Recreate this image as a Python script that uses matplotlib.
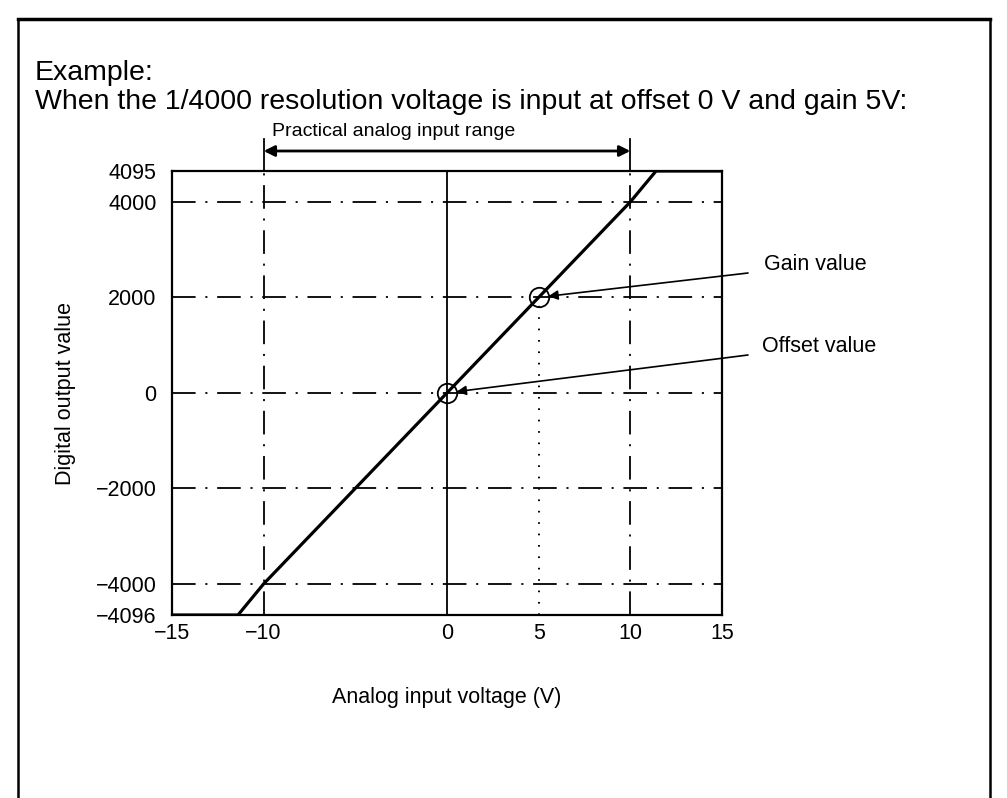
"""Digital output vs analog input voltage, offset 0 V / gain 5 V, 1/4000 resolution."""

import matplotlib

matplotlib.use("Agg")
import matplotlib.pyplot as plt
import numpy as np
from matplotlib.lines import Line2D

plt.rcParams["font.family"] = ["Liberation Sans", "DejaVu Sans"]
plt.rcParams["lines.scale_dashes"] = False

# conversion characteristic
volts = [-15, -11.4, -10, 0, 10, 11.4, 15]
digital = [-4096, -4096, -4000, 0, 4000, 4095, 4095]

offset_pt = (0, 0)
gain_pt = (5, 2000)

x_ticks = [-15, -10, 0, 5, 10, 15]
y_ticks = [-4096, -4000, -2000, 0, 2000, 4000, 4095]
h_grid = [-4000, -2000, 0, 2000, 4000]
v_range = [-10, 10]          # practical analog input range limits

Y_LIM = (-4096, 4095)
STRETCH = 6.8                # the drawing exaggerates the band beyond +/-4000


def fwd(y):
    y = np.asarray(y, dtype=float)
    a = np.abs(y)
    return np.where(a <= 4000, y, np.sign(y) * (4000 + (a - 4000) * STRETCH))


def inv(y):
    y = np.asarray(y, dtype=float)
    a = np.abs(y)
    return np.where(a <= 4000, y, np.sign(y) * (4000 + (a - 4000) / STRETCH))


def fx(px):
    return px / 1007


def fy(py):
    return 1 - py / 798


DASHDOT = (0, (17, 7, 1.5, 7))
FS = 15.5

fig = plt.figure(figsize=(10.07, 7.98), dpi=100)
ax = fig.add_axes([0.1708, 0.2293, 0.5462, 0.5564])
ax.set_yscale("function", functions=(fwd, inv))
ax.set_xlim(x_ticks[0], x_ticks[-1])
ax.set_ylim(*Y_LIM)

for y in h_grid:
    ax.axhline(y, color="black", lw=1.3, ls=DASHDOT)
for x in v_range:
    ax.axvline(x, color="black", lw=1.3, ls=DASHDOT)
ax.axvline(0, color="black", lw=1.3)
ax.plot([gain_pt[0], gain_pt[0]], [Y_LIM[0], gain_pt[1]], color="black",
        lw=1.4, ls=(0, (1.2, 7)))

ax.plot(volts, digital, color="black", lw=2.3, solid_capstyle="butt")
for pt in (offset_pt, gain_pt):
    ax.plot(*pt, "o", ms=14, mfc="none", mec="black", mew=1.3)

ax.set_xticks(x_ticks)
ax.set_yticks(y_ticks)
ax.set_xticklabels(["\u221215", "\u221210", "0", "5", "10", "15"])
ax.set_yticklabels(["\u22124096", "\u22124000", "\u22122000", "0", "2000", "4000", "4095"])
ax.tick_params(axis="x", length=0, labelsize=FS, pad=6)
ax.tick_params(axis="y", length=0, labelsize=FS, pad=11)
for sp in ax.spines.values():
    sp.set_linewidth(1.6)

ax.set_xlabel("Analog input voltage (V)", fontsize=FS, labelpad=31)
ax.set_ylabel("Digital output value", fontsize=FS, labelpad=14)

# practical range bracket above the plot
bx0 = ax.transData.transform((v_range[0], 0))[0] / fig.bbox.width
bx1 = ax.transData.transform((v_range[1], 0))[0] / fig.bbox.width
for bx in (bx0, bx1):
    fig.add_artist(Line2D([bx, bx], [fy(139), fy(171)], color="black", lw=1.3))
ax.annotate("", xy=(bx0, fy(151)), xytext=(bx1, fy(151)),
            xycoords="figure fraction", textcoords="figure fraction",
            arrowprops=dict(arrowstyle="<|-|>", color="black", lw=2,
                            mutation_scale=16, shrinkA=0, shrinkB=0))
fig.text(fx(272), fy(131), "Practical analog input range", fontsize=14,
         ha="left", va="center")

# callouts
arrow_kw = dict(arrowstyle="-|>", color="black", lw=1.2, mutation_scale=14,
                shrinkA=0, shrinkB=7)
fig.text(fx(764), fy(264), "Gain value", fontsize=FS, va="center")
ax.annotate("", xy=gain_pt, xytext=(fx(748), fy(273)),
            textcoords="figure fraction", arrowprops=arrow_kw)
fig.text(fx(762), fy(347), "Offset value", fontsize=FS, va="center")
ax.annotate("", xy=offset_pt, xytext=(fx(748), fy(355)),
            textcoords="figure fraction", arrowprops=arrow_kw)

fig.text(fx(35), fy(73), "Example:", fontsize=20.5, va="center")
fig.text(fx(35), fy(102),
         "When the 1/4000 resolution voltage is input at offset 0 V and gain 5V:",
         fontsize=20.5, va="center")

# outer frame (open at the bottom)
L, R, T = fx(18), fx(990), fy(19)
fig.add_artist(Line2D([L, R], [T, T], color="black", lw=2.5))
fig.add_artist(Line2D([L, L], [0, T], color="black", lw=1.8))
fig.add_artist(Line2D([R, R], [0, T], color="black", lw=1.8))

fig.savefig("out.png", dpi=100)
